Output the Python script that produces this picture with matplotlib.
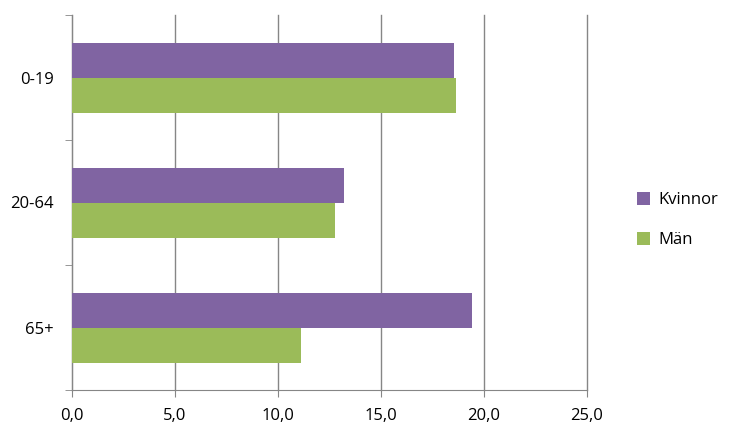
import numpy as np
import matplotlib
matplotlib.use('Agg')
from matplotlib import pyplot as plt
from matplotlib.ticker import FixedLocator

# data
groups = ['0-19', '20-64', '65+']
kvinnor = [18.55, 13.2, 19.4]
man = [18.65, 12.75, 11.1]
xticks = [0, 5, 10, 15, 20, 25]

purple = '#8064A2'
green = '#9BBB59'
grey = '#868686'

plt.rcParams['font.family'] = ['Open Sans', 'DejaVu Sans']

fig = plt.figure(figsize=(7.32, 4.34), dpi=100)
ax = fig.add_axes([72 / 732, 44 / 434, 515 / 732, 375 / 434])

y = np.arange(len(groups))
h = 0.28
ax.barh(y - h / 2, kvinnor, height=h, color=purple, label='Kvinnor', zorder=3)
ax.barh(y + h / 2, man, height=h, color=green, label='Män', zorder=3)

ax.set_xlim(0, 25)
ax.set_ylim(len(groups) - 0.5, -0.5)
ax.xaxis.set_major_locator(FixedLocator(xticks))
ax.set_xticklabels([('%.1f' % v).replace('.', ',') for v in xticks], fontsize=12)
ax.set_yticks(y)
ax.set_yticklabels(groups, fontsize=12)
ax.yaxis.set_minor_locator(FixedLocator(np.arange(-0.5, len(groups), 1.0)))

ax.tick_params(axis='y', which='major', length=0, pad=13)
ax.tick_params(axis='y', which='minor', length=5, color=grey, direction='out')
ax.tick_params(axis='x', length=5, color=grey, pad=8)

ax.grid(axis='x', color=grey, linewidth=1, zorder=0)
for gl in ax.get_xgridlines():
    gl.set_clip_on(False)
for s in ['top', 'right']:
    ax.spines[s].set_visible(False)
for s in ['left', 'bottom']:
    ax.spines[s].set_color(grey)

fig.legend(loc='center left', bbox_to_anchor=(622 / 732, (434 - 220) / 434),
           frameon=False, fontsize=12, handlelength=0.8, handleheight=0.8,
           labelspacing=1.45, handletextpad=0.5)

fig.savefig('out.png', dpi=100)
